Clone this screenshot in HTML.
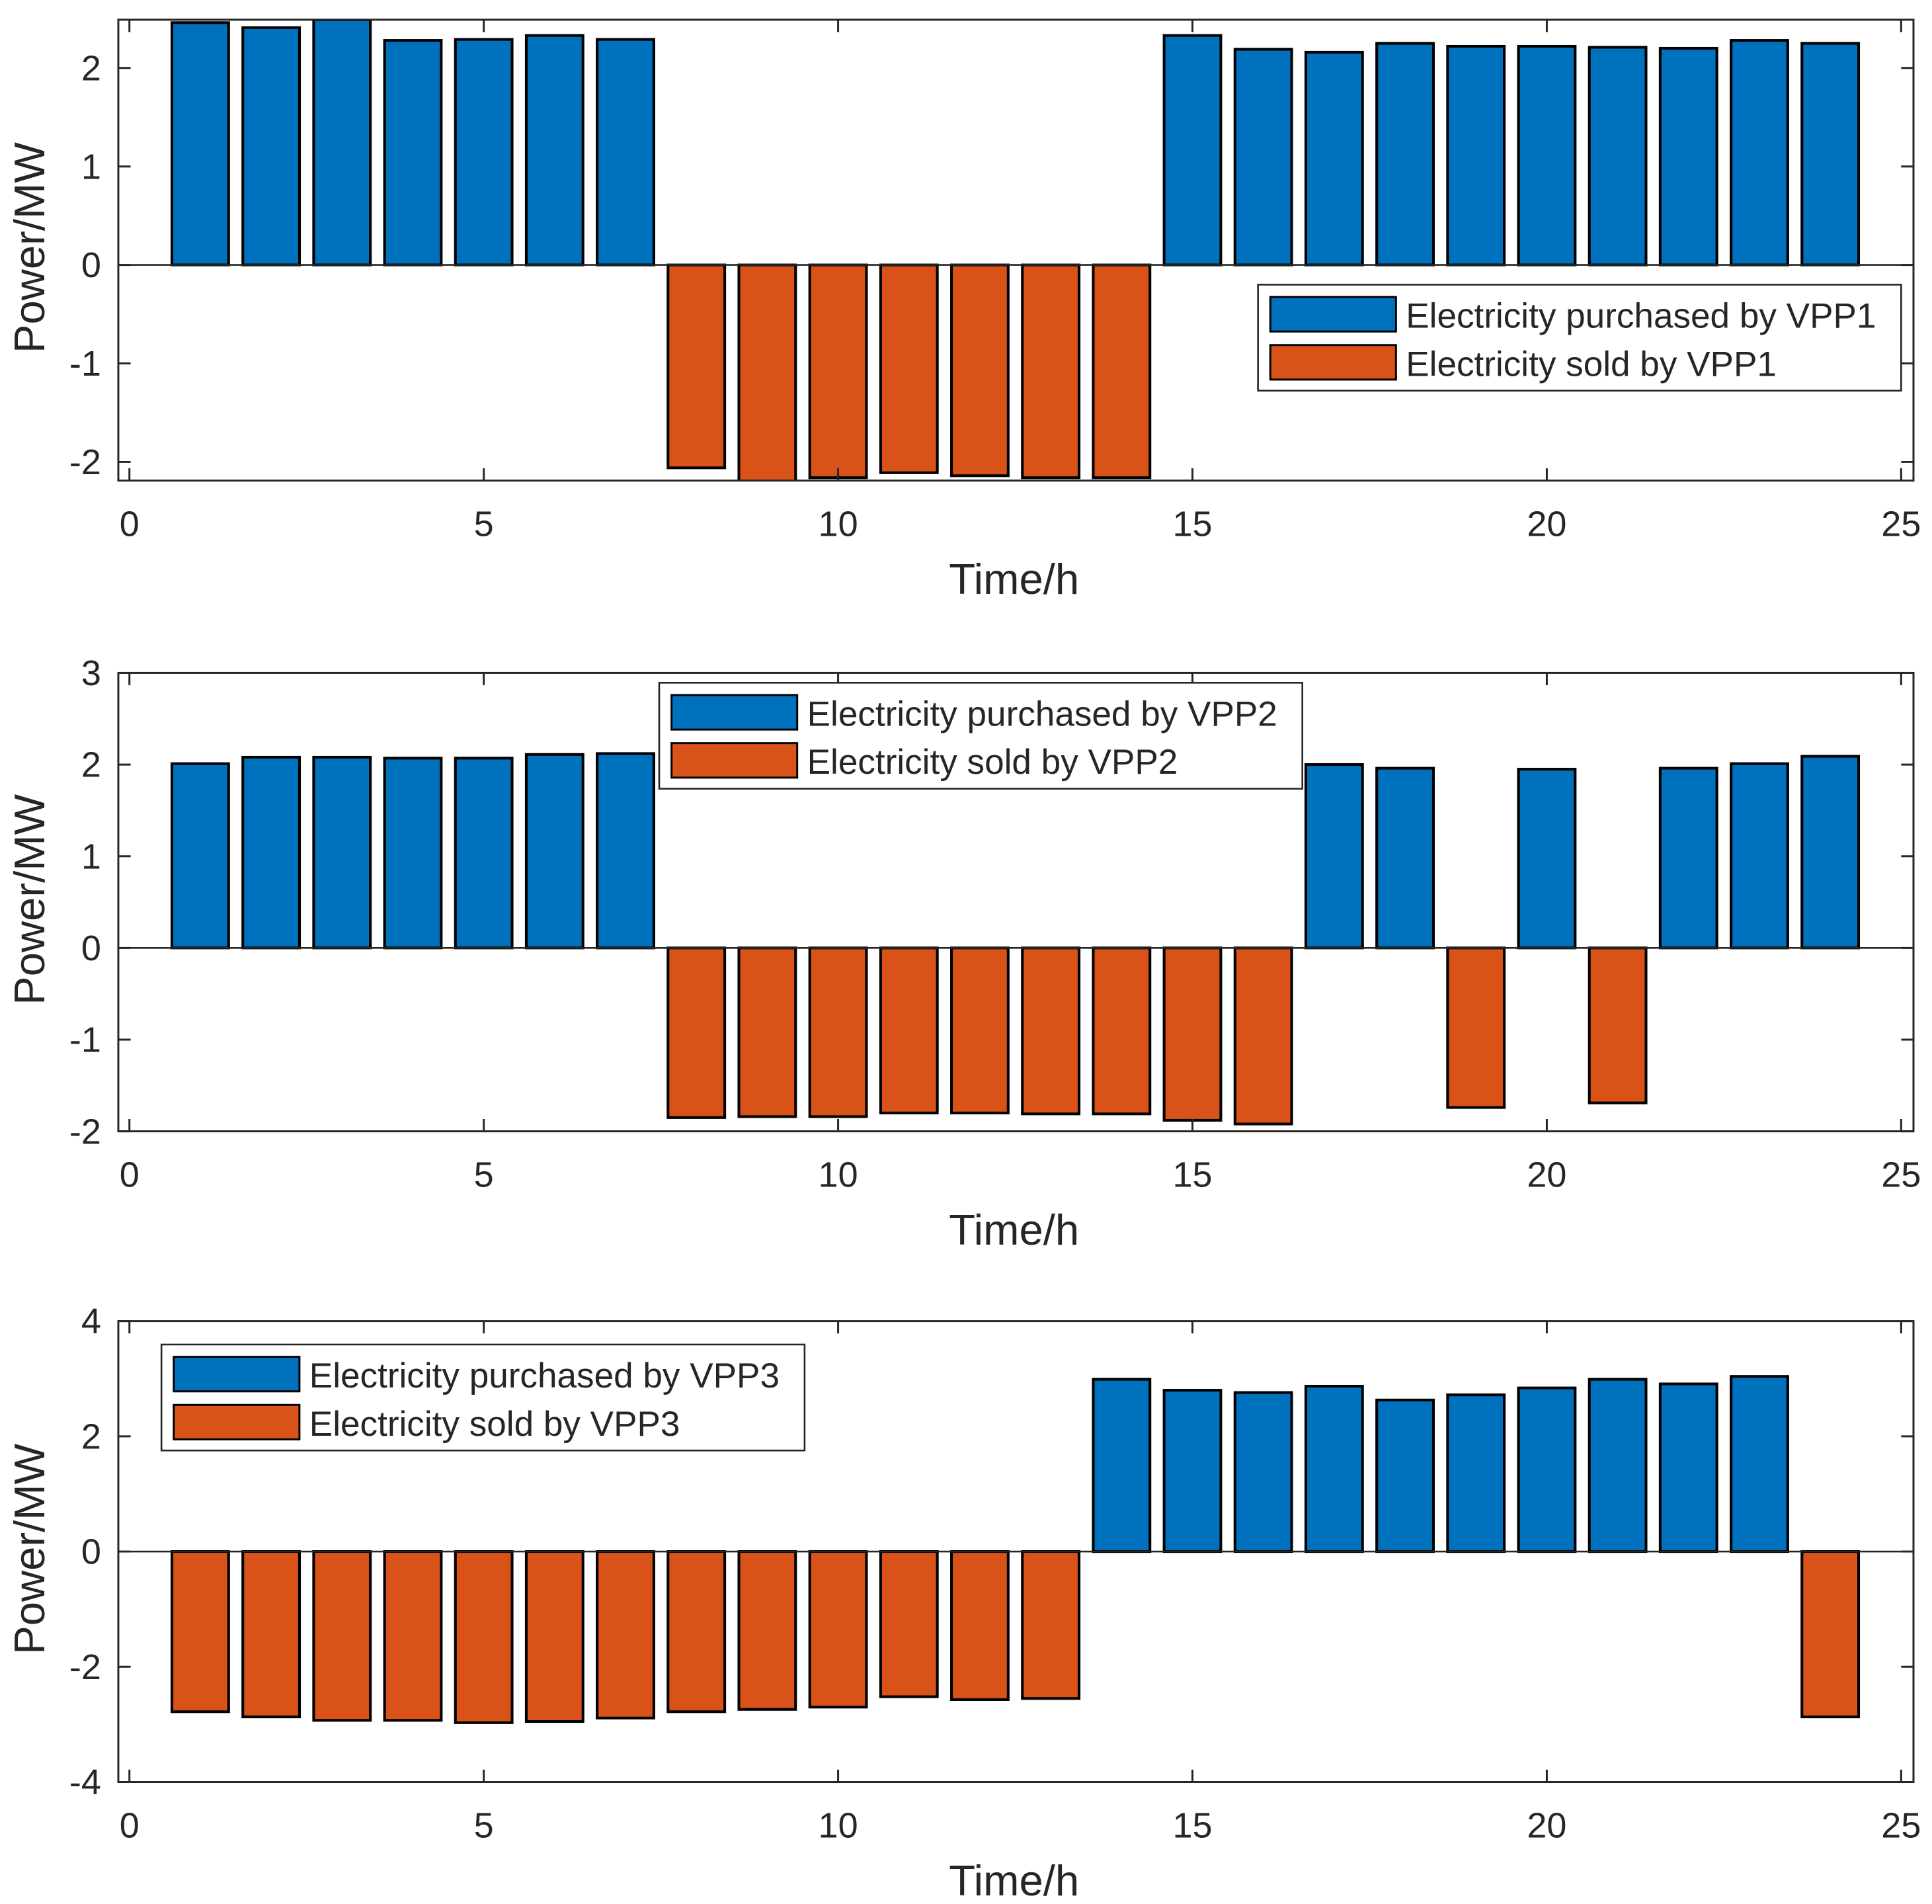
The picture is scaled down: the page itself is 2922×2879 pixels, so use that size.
<!DOCTYPE html>
<html><head><meta charset="utf-8"><style>
html,body{margin:0;padding:0;background:#fff}
svg{display:block}
text{font-family:"Liberation Sans",Arial,sans-serif;fill:#262626}
</style></head><body>
<svg id="fig" width="2922" height="2879" viewBox="0 0 1568 1545" xmlns="http://www.w3.org/2000/svg"></svg>
<script>
const hours = [1,2,3,4,5,6,7,8,9,10,11,12,13,14,15,16,17,18,19,20,21,22,23,24];
const vpp1 = [2.46,2.41,2.49,2.28,2.29,2.33,2.29,-2.06,-2.22,-2.16,-2.11,-2.14,-2.16,-2.16,2.33,2.19,2.16,2.25,2.22,2.22,2.21,2.2,2.28,2.25];
const vpp2 = [2.01,2.08,2.08,2.07,2.07,2.11,2.12,-1.85,-1.84,-1.84,-1.8,-1.8,-1.81,-1.81,-1.88,-1.92,2.0,1.96,-1.74,1.95,-1.69,1.96,2.01,2.09];
const vpp3 = [-2.78,-2.87,-2.93,-2.93,-2.97,-2.95,-2.89,-2.78,-2.74,-2.7,-2.52,-2.57,-2.55,2.99,2.8,2.76,2.87,2.63,2.72,2.84,2.99,2.91,3.04,-2.87];
const xTicks = [0,5,10,15,20,25];
const yTicks1 = [-2,-1,0,1,2];
const yTicks2 = [-2,-1,0,1,2,3];
const yTicks3 = [-4,-2,0,2,4];
const names = ["VPP1","VPP2","VPP3"];

const NS="http://www.w3.org/2000/svg";
const svg=document.getElementById('fig');
function mk(tag,attrs,parent){const e=document.createElementNS(NS,tag);for(const k in attrs)e.setAttribute(k,attrs[k]);(parent||svg).appendChild(e);return e;}
const BLUE="#0072BD", ORANGE="#D95319";
const L=96,R=1553;
const xs=v=>105+v*57.52;

const panels=[
 {data:vpp1,ticks:yTicks1,top:16,bot:390,ymin:-2.19,ymax:2.49,leg:[1021,231]},
 {data:vpp2,ticks:yTicks2,top:546,bot:918,ymin:-2,ymax:3,leg:[535,554]},
 {data:vpp3,ticks:yTicks3,top:1072,bot:1446,ymin:-4,ymax:4,leg:[131,1091]}
];
panels.forEach((p,pi)=>{
  const g=mk('g',{});
  
  
  const ys=v=>p.bot-(v-p.ymin)/(p.ymax-p.ymin)*(p.bot-p.top);
  const cid='clip'+pi;
  const cp=mk('clipPath',{id:cid},g);
  mk('rect',{x:L,y:p.top,width:R-L,height:p.bot-p.top},cp);
  const bars=mk('g',{'clip-path':'url(#'+cid+')'},g);
  hours.forEach((h,i)=>{
    const v=p.data[i];
    const x0=xs(h-0.4),x1=xs(h+0.4);
    const y0=ys(Math.max(v,0)),y1=ys(Math.min(v,0));
    const r=mk('rect',{x:x0,y:y0,width:x1-x0,height:y1-y0,fill:v>=0?BLUE:ORANGE,stroke:'#000','stroke-width':2.2},bars);
    
    
  });
  mk('line',{x1:L,x2:R,y1:ys(0),y2:ys(0),stroke:'#262626','stroke-width':1.4},g);
  const box=mk('rect',{x:L,y:p.top,width:R-L,height:p.bot-p.top,fill:'none',stroke:'#262626','stroke-width':1.6},g);
  
  
  xTicks.forEach(t=>{
    const x=xs(t);
    mk('line',{x1:x,x2:x,y1:p.bot,y2:p.bot-10,stroke:'#262626','stroke-width':1.6},g);
    mk('line',{x1:x,x2:x,y1:p.top,y2:p.top+10,stroke:'#262626','stroke-width':1.6},g);
    const tx=mk('text',{x:x,y:p.bot+45,'text-anchor':'middle','font-size':29},g);
    tx.textContent=t;
    
    
  });
  p.ticks.forEach(t=>{
    const y=ys(t);
    mk('line',{x1:L,x2:L+10,y1:y,y2:y,stroke:'#262626','stroke-width':1.6},g);
    mk('line',{x1:R,x2:R-10,y1:y,y2:y,stroke:'#262626','stroke-width':1.6},g);
    const ty=mk('text',{x:L-14,y:y+10,'text-anchor':'end','font-size':29},g);
    ty.textContent=t;
    
    
  });
  const xl=mk('text',{x:823,y:p.bot+92,'text-anchor':'middle','font-size':35},g);
  xl.textContent='Time/h';
  
  
  const cy=(p.top+p.bot)/2-2;
  const yl=mk('text',{x:36,y:cy,'text-anchor':'middle','font-size':35,transform:'rotate(-90 36 '+cy+')'},g);
  yl.textContent='Power/MW';
  
  
  const [lx,ly]=p.leg;
  const lg=mk('g',{},g);
  
  
  mk('rect',{x:lx,y:ly,width:522,height:86,fill:'#fff',stroke:'#262626','stroke-width':1.4},lg);
  [['purchased',BLUE,'Electricity purchased by '],['sold',ORANGE,'Electricity sold by ']].forEach((e,k)=>{
    const ey=ly+10+k*39;
    const pr=mk('rect',{x:lx+10,y:ey,width:102,height:28,fill:e[1],stroke:'#000','stroke-width':1.6},lg);
    
    
    const lt=mk('text',{x:lx+120,y:ey+25,'font-size':28.5},lg);
    lt.textContent=e[2]+names[pi];
    
    
  });
});
</script>
</body></html>
